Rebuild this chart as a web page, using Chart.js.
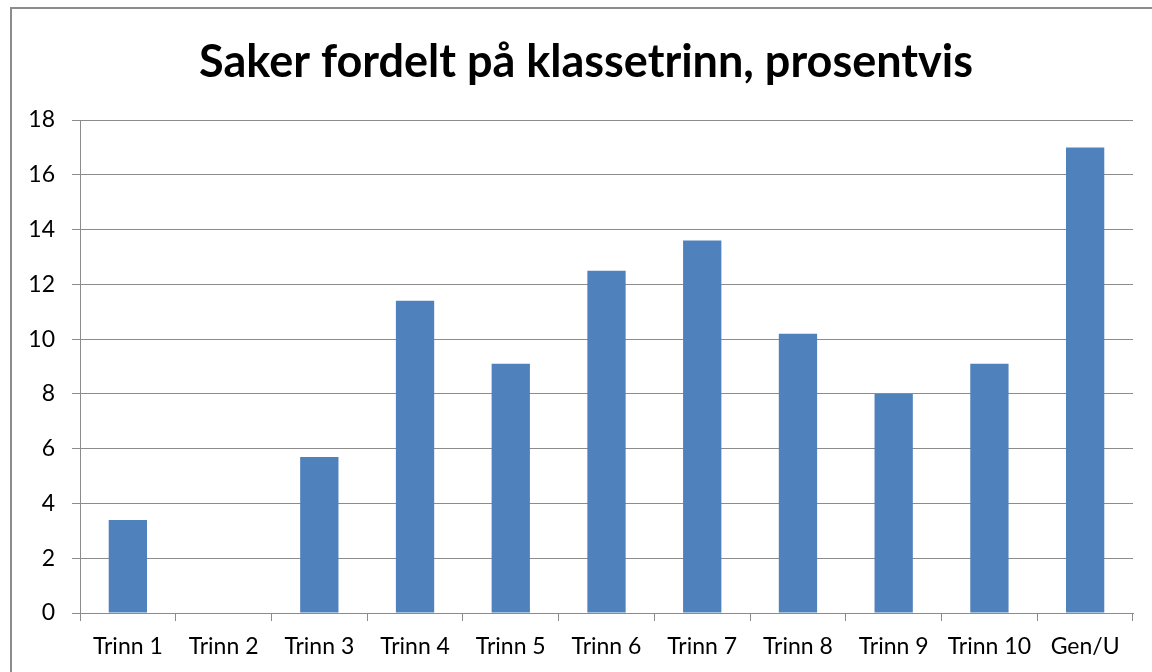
<!DOCTYPE html>
<html>
<head>
<meta charset="utf-8">
<script src="https://cdn.jsdelivr.net/npm/chart.js@4"></script>
<style>
  html, body { margin: 0; padding: 0; background: #fff; overflow: hidden; }
  #wrap { position: relative; width: 1152px; height: 672px; }
  #frame { position: absolute; left: 10px; top: 7px; width: 1200px; height: 720px; border: 2px solid #8c8c8c; box-sizing: border-box; }
  canvas { position: absolute; left: 0; top: 0; }
</style>
</head>
<body>
<div id="wrap">
  <div id="frame"></div>
  <canvas id="chart" width="1152" height="672"></canvas>
</div>
<script>
  // chart data
  var categories = ['Trinn 1', 'Trinn 2', 'Trinn 3', 'Trinn 4', 'Trinn 5', 'Trinn 6', 'Trinn 7', 'Trinn 8', 'Trinn 9', 'Trinn 10', 'Gen/U'];
  var percentValues = [3.4, 0, 5.7, 11.4, 9.1, 12.5, 13.6, 10.2, 8.0, 9.1, 17.0];
  var yTicks = [0, 2, 4, 6, 8, 10, 12, 14, 16, 18];
  var titleText = 'Saker fordelt på klassetrinn, prosentvis';

  var gridColor = '#8c8c8c';

  // title is centred on the outer frame, not on the canvas, so draw it here
  var frameTitle = {
    id: 'frameTitle',
    afterDraw: function(chart) {
      var c = chart.ctx;
      c.save();
      c.font = 'bold 45px Lato';
      c.fillStyle = '#000';
      c.textAlign = 'center';
      c.textBaseline = 'middle';
      c.fillText(titleText, 586, 62);
      c.restore();
    }
  };

  var ctx = document.getElementById('chart').getContext('2d');
  var myChart = new Chart(ctx, {
    type: 'bar',
    data: {
      labels: categories,
      datasets: [{
        data: percentValues,
        backgroundColor: '#4f81bd',
        borderWidth: 0,
        barPercentage: 0.4,
        categoryPercentage: 1
      }]
    },
    plugins: [frameTitle],
    options: {
      responsive: false,
      animation: false,
      layout: { padding: { left: 0, right: 19, top: 120, bottom: 0 } },
      plugins: {
        legend: { display: false },
        tooltip: { enabled: false },
        title: { display: false }
      },
      scales: {
        x: {
          grid: { display: true, drawOnChartArea: false, color: gridColor, tickLength: 8, offset: true },
          border: { color: gridColor, width: 1 },
          ticks: { color: '#000', font: { family: 'Lato', size: 23 }, padding: 12, maxRotation: 0, autoSkip: false },
          afterFit: function(scale) { scale.height = 59; }
        },
        y: {
          min: 0,
          max: 18,
          afterBuildTicks: function(scale) {
            scale.ticks = yTicks.map(function(v) { return { value: v }; });
          },
          grid: { color: gridColor, tickLength: 8 },
          border: { color: gridColor, width: 1 },
          ticks: { color: '#000', font: { family: 'Lato', size: 23 }, padding: 17 },
          afterFit: function(scale) { scale.width = 80; }
        }
      }
    }
  });
</script>
</body>
</html>
